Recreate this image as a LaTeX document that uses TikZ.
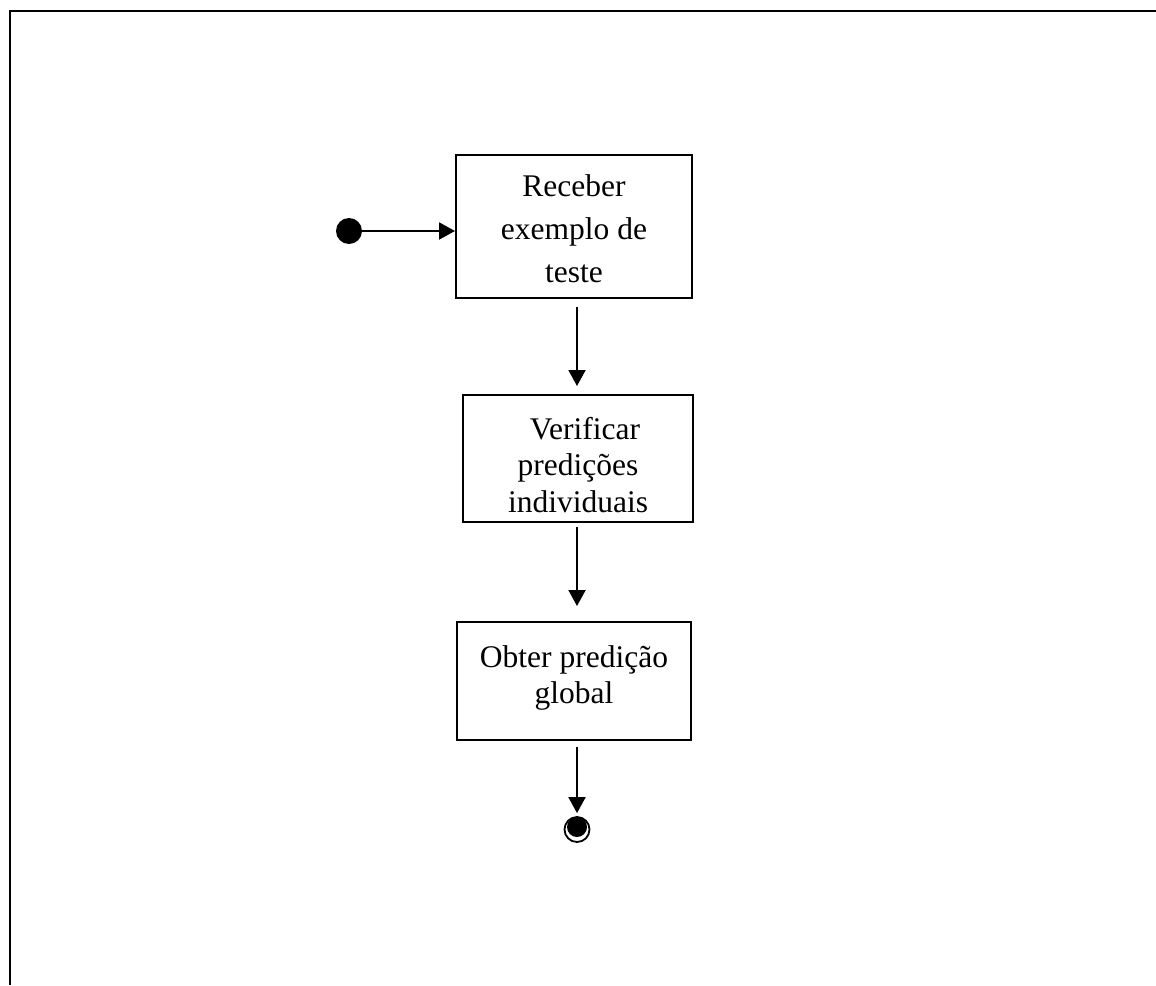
\documentclass[tikz,border=0pt]{standalone}
\usepackage{fontspec}
\setmainfont{Liberation Serif}
\usetikzlibrary{arrows.meta,calc}
\tikzset{
  stepbox/.style={draw=black, line width=2pt, rectangle, inner sep=0pt},
  steptext/.style={anchor=north, align=center, inner sep=0pt,
    font=\fontsize{31.5pt}{36.5pt}\selectfont},
  widetext/.style={steptext, font=\fontsize{31.5pt}{43pt}\selectfont},
  flow/.style={draw=black, line width=2pt,
    -{Triangle[length=16pt,width=17pt]}},
  frameline/.style={draw=black, line width=2.3pt},
}
\begin{document}
\begin{tikzpicture}[x=1pt,y=-1pt]
\useasboundingbox (0,0) rectangle (1156,985);

% open frame: top and left edges only
\draw[frameline] (10,985) -- (10,11) -- (1156,11);

% initial and final states
\node[circle, fill=black, minimum size=26pt, inner sep=0pt] (start) at (349,231) {};
\node[circle, draw=black, line width=1.8pt, minimum size=25pt, inner sep=0pt] (fin) at (577,829.5) {};
\node[circle, fill=black, minimum size=20pt, inner sep=0pt] (fincore) at (577,827) {};

% activity boxes
\node[stepbox, minimum width=236pt, minimum height=143pt] (b1) at (574,226.5) {};
\node[widetext] (t1) at (574,174) {Receber\\exemplo de\\teste};

\node[stepbox, minimum width=230pt, minimum height=127pt] (b2) at (578,458.5) {};
\node[steptext] (t2) at (578,417) {\hspace*{14pt}Verificar\\predições\\individuais};

\node[stepbox, minimum width=234pt, minimum height=118pt] (b3) at (574,681) {};
\node[steptext] (t3) at (574,645) {Obter predição\\global};

% transitions
\draw[flow] (start) -- (start -| b1.west);
\draw[flow, shorten <=8pt, shorten >=8pt] (b1.south -| fin) -- (b2.north -| fin);
\draw[flow, shorten <=4pt, shorten >=15pt] (b2.south -| fin) -- (b3.north -| fin);
\draw[flow, shorten <=6pt, shorten >=3pt] (b3.south -| fin) -- (fin.north);
\end{tikzpicture}
\end{document}
